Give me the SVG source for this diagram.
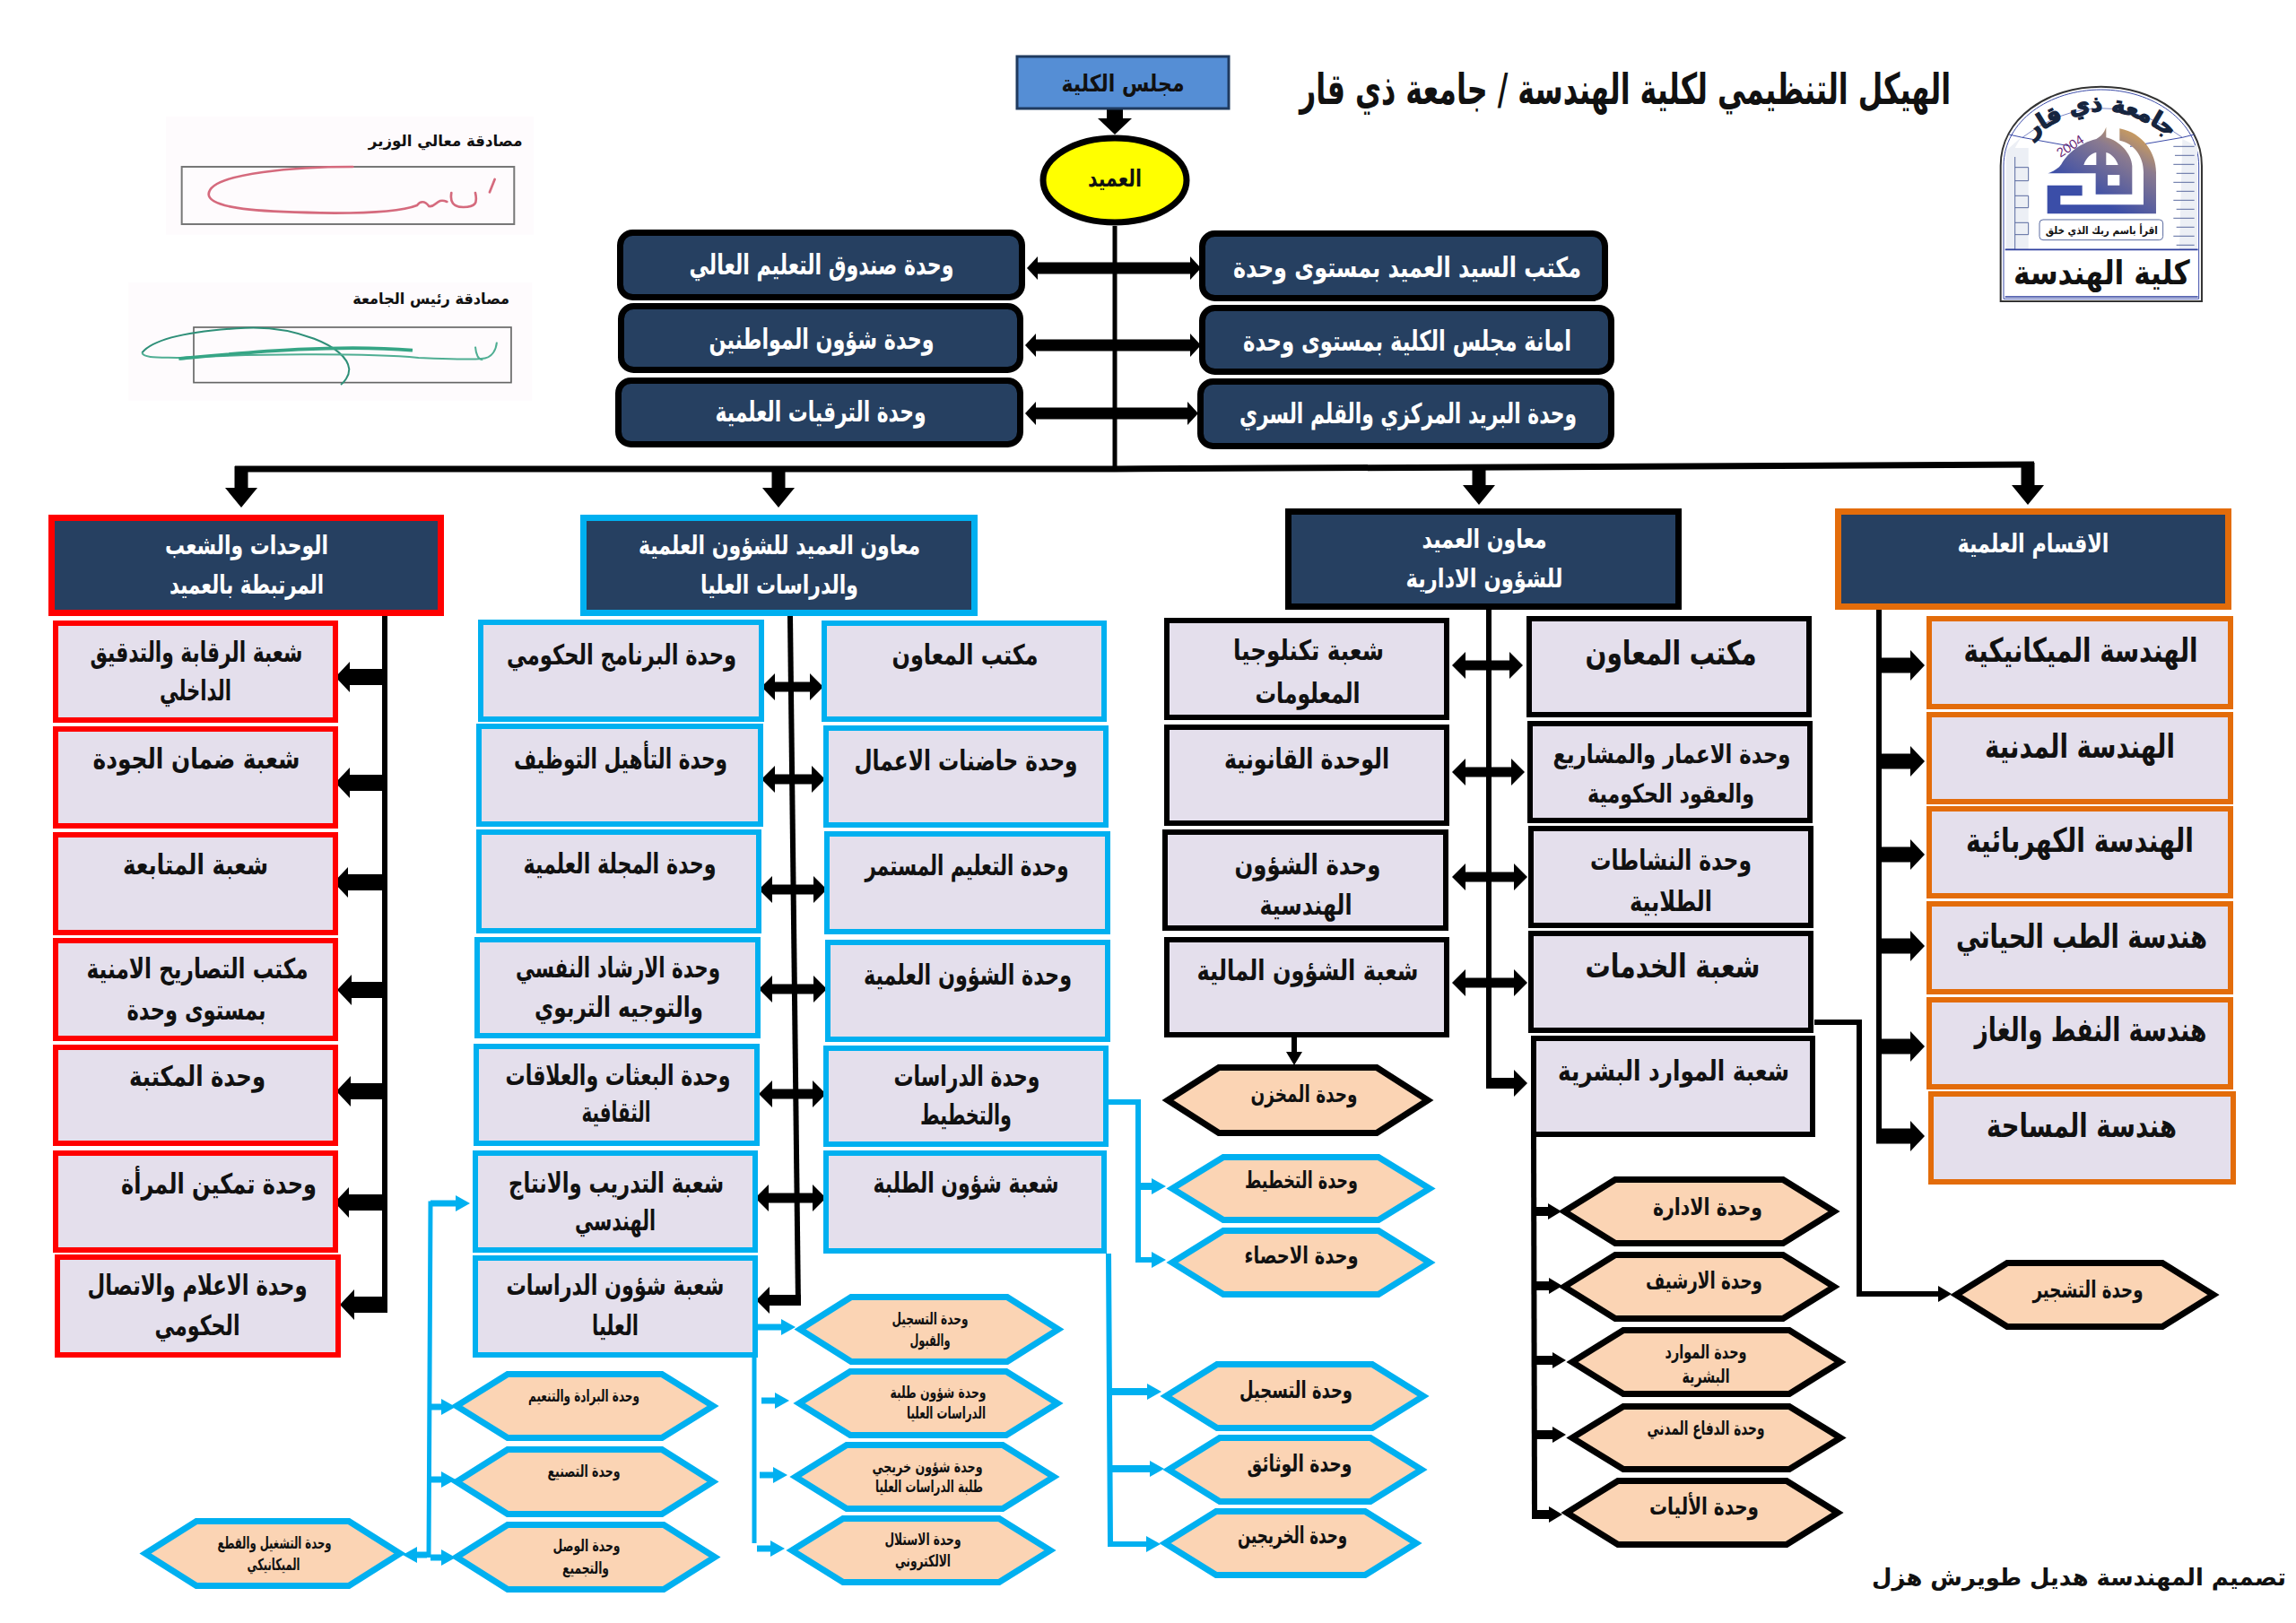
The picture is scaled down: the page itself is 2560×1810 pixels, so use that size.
<svg xmlns="http://www.w3.org/2000/svg" xmlns:xlink="http://www.w3.org/1999/xlink" width="2560" height="1810" viewBox="0 0 2560 1810">
<style>
text{font-family:"DejaVu Sans","Noto Sans",sans-serif;font-weight:700;text-anchor:middle;direction:rtl;fill:#111;}
.w{fill:#fff;}
.s16{font-size:18px}.s19{font-size:21px}.s24{font-size:26px}.s27{font-size:29px}.s29{font-size:31px}.s34{font-size:37px}.s42{font-size:48px}
.s16,.s19,.s24,.s27,.s29,.s34{transform:translateY(2px)}
.box{fill:#e4dfec;stroke-width:6;}
.hdr{fill:#264061;stroke-width:7;}
.rnd{fill:#264061;stroke:#000;stroke-width:7;}
.hex{fill:#fbd4b4;stroke-width:7;}
.red{stroke:#f00}.blue{stroke:#00b0f0}.blk{stroke:#000}.org{stroke:#e36c0a}
.ln{fill:none;stroke:#000;}
.bl{fill:none;stroke:#00b0f0;}
</style>
<defs>
<marker id="aC" markerUnits="userSpaceOnUse" viewBox="0 -19 18 38" refX="0" refY="0" markerWidth="18" markerHeight="38" orient="auto-start-reverse"><path d="M0-19L18 0L0 19Z"/></marker>
<marker id="aD" markerUnits="userSpaceOnUse" viewBox="0 -18 22 36" refX="0" refY="0" markerWidth="22" markerHeight="36" orient="auto-start-reverse"><path d="M0-18L22 0L0 18Z"/></marker>
<marker id="aT" markerUnits="userSpaceOnUse" viewBox="0 -13 12 26" refX="0" refY="0" markerWidth="12" markerHeight="26" orient="auto-start-reverse"><path d="M0-13L12 0L0 13Z"/></marker>
<marker id="aB" markerUnits="userSpaceOnUse" viewBox="0 -17 16 34" refX="0" refY="0" markerWidth="16" markerHeight="34" orient="auto-start-reverse"><path d="M0-17L16 0L0 17Z"/></marker>
<marker id="aM" markerUnits="userSpaceOnUse" viewBox="0 -15 15 30" refX="0" refY="0" markerWidth="15" markerHeight="30" orient="auto-start-reverse"><path d="M0-15L15 0L0 15Z"/></marker>
<marker id="aS" markerUnits="userSpaceOnUse" viewBox="0 -9 15 18" refX="0" refY="0" markerWidth="15" markerHeight="18" orient="auto-start-reverse"><path d="M0-9L15 0L0 9Z"/></marker>
<marker id="aL" markerUnits="userSpaceOnUse" viewBox="0 -9 16 18" refX="0" refY="0" markerWidth="16" markerHeight="18" orient="auto-start-reverse"><path d="M0-9L16 0L0 9Z" fill="#00b0f0"/></marker>
<linearGradient id="gold" x1="1" y1="0" x2="0.4" y2="0.8"><stop offset="0" stop-color="#f0b040"/><stop offset=".45" stop-color="#8a7a90"/><stop offset="1" stop-color="#3b4ea8"/></linearGradient>
<path id="arcT" d="M118 222 Q 368 12 618 222"/>
</defs>
<rect width="2560" height="1810" fill="#fff"/>

<g id="connectors">
<line class="ln" stroke-width="18" x1="1243" y1="120" x2="1243" y2="132" marker-end="url(#aC)"/>
<line class="ln" stroke-width="5" x1="1243" y1="252" x2="1243" y2="525"/>
<line class="ln" stroke-width="13" x1="1157" y1="299" x2="1327" y2="299" marker-start="url(#aT)" marker-end="url(#aT)"/>
<line class="ln" stroke-width="13" x1="1155" y1="385" x2="1327" y2="385" marker-start="url(#aT)" marker-end="url(#aT)"/>
<line class="ln" stroke-width="13" x1="1155" y1="461" x2="1324" y2="461" marker-start="url(#aT)" marker-end="url(#aT)"/>
<polyline class="ln" stroke-width="7" points="262,523 1243,523 2268,518"/>
<line class="ln" stroke-width="15" x1="269" y1="520" x2="269" y2="544" marker-end="url(#aD)"/>
<line class="ln" stroke-width="15" x1="868" y1="523" x2="868" y2="544" marker-end="url(#aD)"/>
<line class="ln" stroke-width="15" x1="1649" y1="521" x2="1649" y2="541" marker-end="url(#aD)"/>
<line class="ln" stroke-width="15" x1="2261" y1="516" x2="2261" y2="541" marker-end="url(#aD)"/>
<line class="ln" stroke-width="6" x1="429" y1="687" x2="429" y2="1463"/>
<line class="ln" stroke-width="18" x1="432" y1="755" x2="390" y2="755" marker-end="url(#aB)"/>
<line class="ln" stroke-width="18" x1="432" y1="873" x2="390" y2="873" marker-end="url(#aB)"/>
<line class="ln" stroke-width="18" x1="432" y1="984" x2="388" y2="984" marker-end="url(#aB)"/>
<line class="ln" stroke-width="18" x1="432" y1="1104" x2="392" y2="1104" marker-end="url(#aB)"/>
<line class="ln" stroke-width="18" x1="432" y1="1217" x2="391" y2="1217" marker-end="url(#aB)"/>
<line class="ln" stroke-width="18" x1="432" y1="1341" x2="389" y2="1341" marker-end="url(#aB)"/>
<line class="ln" stroke-width="18" x1="432" y1="1455" x2="395" y2="1455" marker-end="url(#aB)"/>
<polyline class="ln" stroke-width="6" points="881,687 890,1455"/>
<line class="ln" stroke-width="12" x1="893" y1="1450" x2="858" y2="1450" marker-end="url(#aM)"/>
<line class="ln" stroke-width="11" x1="864" y1="766" x2="903" y2="766" marker-start="url(#aM)" marker-end="url(#aM)"/>
<line class="ln" stroke-width="11" x1="864" y1="869" x2="905" y2="869" marker-start="url(#aM)" marker-end="url(#aM)"/>
<line class="ln" stroke-width="11" x1="861" y1="992" x2="907" y2="992" marker-start="url(#aM)" marker-end="url(#aM)"/>
<line class="ln" stroke-width="11" x1="861" y1="1103" x2="907" y2="1103" marker-start="url(#aM)" marker-end="url(#aM)"/>
<line class="ln" stroke-width="11" x1="861" y1="1220" x2="906" y2="1220" marker-start="url(#aM)" marker-end="url(#aM)"/>
<line class="ln" stroke-width="11" x1="857" y1="1336" x2="906" y2="1336" marker-start="url(#aM)" marker-end="url(#aM)"/>
<line class="ln" stroke-width="6" x1="1660" y1="680" x2="1660" y2="1208"/>
<line class="ln" stroke-width="12" x1="1657" y1="1208" x2="1688" y2="1208" marker-end="url(#aM)"/>
<line class="ln" stroke-width="11" x1="1634" y1="742" x2="1683" y2="742" marker-start="url(#aM)" marker-end="url(#aM)"/>
<line class="ln" stroke-width="11" x1="1634" y1="861" x2="1685" y2="861" marker-start="url(#aM)" marker-end="url(#aM)"/>
<line class="ln" stroke-width="11" x1="1634" y1="978" x2="1688" y2="978" marker-start="url(#aM)" marker-end="url(#aM)"/>
<line class="ln" stroke-width="11" x1="1634" y1="1096" x2="1688" y2="1096" marker-start="url(#aM)" marker-end="url(#aM)"/>
<line class="ln" stroke-width="6" x1="2095" y1="680" x2="2095" y2="1275"/>
<line class="ln" stroke-width="17" x1="2092" y1="742" x2="2130" y2="742" marker-end="url(#aB)"/>
<line class="ln" stroke-width="17" x1="2092" y1="849" x2="2130" y2="849" marker-end="url(#aB)"/>
<line class="ln" stroke-width="17" x1="2092" y1="953" x2="2130" y2="953" marker-end="url(#aB)"/>
<line class="ln" stroke-width="17" x1="2092" y1="1055" x2="2130" y2="1055" marker-end="url(#aB)"/>
<line class="ln" stroke-width="17" x1="2092" y1="1167" x2="2130" y2="1167" marker-end="url(#aB)"/>
<line class="ln" stroke-width="17" x1="2092" y1="1267" x2="2130" y2="1267" marker-end="url(#aB)"/>
<polyline class="ln" stroke-width="6" points="2023,1140 2073,1140 2073,1443 2161,1443" marker-end="url(#aS)"/>
<line class="ln" stroke-width="6" x1="1443" y1="1157" x2="1443" y2="1173" marker-end="url(#aS)"/>
<line class="ln" stroke-width="6" x1="1710" y1="1268" x2="1711" y2="1689"/>
<line class="ln" stroke-width="10" x1="1708" y1="1351" x2="1726" y2="1351" marker-end="url(#aS)"/>
<line class="ln" stroke-width="10" x1="1708" y1="1434" x2="1727" y2="1434" marker-end="url(#aS)"/>
<line class="ln" stroke-width="10" x1="1708" y1="1517" x2="1731" y2="1517" marker-end="url(#aS)"/>
<line class="ln" stroke-width="10" x1="1708" y1="1600" x2="1731" y2="1600" marker-end="url(#aS)"/>
<line class="ln" stroke-width="10" x1="1708" y1="1689" x2="1727" y2="1689" marker-end="url(#aS)"/>
<polyline class="bl" stroke-width="6" points="1236,1229 1269,1229 1269,1405 1284,1405" marker-end="url(#aL)"/>
<line class="bl" stroke-width="8" x1="1269" y1="1323" x2="1284" y2="1323" marker-end="url(#aL)"/>
<polyline class="bl" stroke-width="6" points="1236,1398 1238,1722 1278,1722" marker-end="url(#aL)"/>
<line class="bl" stroke-width="8" x1="1238" y1="1552" x2="1279" y2="1552" marker-end="url(#aL)"/>
<line class="bl" stroke-width="8" x1="1238" y1="1638" x2="1282" y2="1638" marker-end="url(#aL)"/>
<line class="bl" stroke-width="5" x1="841" y1="1512" x2="841" y2="1721"/>
<line class="bl" stroke-width="7" x1="845" y1="1480" x2="871" y2="1480" marker-end="url(#aL)"/>
<line class="bl" stroke-width="7" x1="849" y1="1562" x2="864" y2="1562" marker-end="url(#aL)"/>
<line class="bl" stroke-width="7" x1="847" y1="1645" x2="862" y2="1645" marker-end="url(#aL)"/>
<line class="bl" stroke-width="7" x1="844" y1="1727" x2="859" y2="1727" marker-end="url(#aL)"/>
<polyline class="bl" stroke-width="5" points="506,1342 480,1342 478,1737"/>
<line class="bl" stroke-width="7" x1="480" y1="1342" x2="508" y2="1342" marker-end="url(#aL)"/>
<line class="bl" stroke-width="7" x1="480" y1="1569" x2="492" y2="1569" marker-end="url(#aL)"/>
<line class="bl" stroke-width="7" x1="480" y1="1650" x2="492" y2="1650" marker-end="url(#aL)"/>
<line class="bl" stroke-width="7" x1="480" y1="1737" x2="492" y2="1737" marker-end="url(#aL)"/>
<line class="bl" stroke-width="7" x1="476" y1="1734" x2="465" y2="1734" marker-end="url(#aL)"/>
</g>

<text id="title" class="s42" x="1812" y="116" textLength="726" lengthAdjust="spacingAndGlyphs">الهيكل التنظيمي لكلية الهندسة / جامعة ذي قار</text>

<g id="sig1" transform="translate(140 125) scale(.3333)">
<rect x="135" y="15" width="1230" height="395" fill="#fefbfd"/>
<rect x="188" y="183" width="1112" height="192" fill="none" stroke="#777" stroke-width="6"/>
<path d="M760 183C600 183 280 200 278 275C280 330 500 335 700 338C820 338 930 330 975 312C985 298 1000 295 1015 315C1040 320 1040 285 1075 300M1090 270C1085 300 1095 318 1130 318C1170 318 1178 305 1170 270M1235 225L1218 268" fill="none" stroke="#d56a7d" stroke-width="8" stroke-linecap="round"/>
<text x="1070" y="113" font-size="52" textLength="515" lengthAdjust="spacingAndGlyphs">مصادقة معالي الوزير</text>
</g>
<g id="sig2" transform="translate(140 125) scale(.3333)">
<rect x="10" y="570" width="1350" height="395" fill="#fefbfd"/>
<rect x="228" y="720" width="1062" height="185" fill="none" stroke="#666" stroke-width="5"/>
<path d="M55 805C100 750 250 730 400 722C560 715 740 780 748 860C748 885 730 905 720 912" fill="none" stroke="#2e8f78" stroke-width="6"/>
<path d="M55 805C60 825 120 820 180 822C400 810 800 805 980 822C1050 825 1150 830 1190 825C1230 825 1240 790 1242 770M1170 785C1172 810 1180 830 1195 828" fill="none" stroke="#4fae93" stroke-width="6"/>
<path d="M178 825C400 805 700 775 960 797" fill="none" stroke="#36a585" stroke-width="11"/>
<text x="1022" y="642" font-size="52" textLength="525" lengthAdjust="spacingAndGlyphs">مصادقة رئيس الجامعة</text>
</g>

<g id="logo" transform="translate(2220 85) scale(.3333)">
<path d="M32 753V300C32 140 190 35 368 35C545 35 705 140 705 300V753Z" fill="#fff" stroke="#333" stroke-width="6"/>
<path d="M42 745V300C42 150 195 45 368 45C540 45 695 150 695 300V745Z" fill="none" stroke="#3a4aa8" stroke-width="3"/>
<path d="M50 580V250L100 205L80 240H125V580Z" fill="#eceff5"/>
<path d="M80 270V580H50M80 305H125V350H80M80 400H125V440H80M80 490H125V530H80" fill="none" stroke="#5a6aa0" stroke-width="3"/>
<path d="M640 210L690 235V580H630Z" fill="#eceff5"/>
<path d="M610 235H680M615 265H680M610 295H680M620 325H680M610 355H680M620 385H680M610 415H680M620 445H680M610 475H680M620 505H680M610 535H680M620 565H680" stroke="#5a6aa0" stroke-width="3"/>
<path d="M60 195L105 205L270 235M465 235L640 205L680 195" fill="none" stroke="#3a4aa8" stroke-width="3"/>
<path d="M105 205Q368 10 640 205" fill="none" stroke="#3a4aa8" stroke-width="2"/>
<path d="M47 580H692" stroke="#2e3f9e" stroke-width="5"/>
<path d="M47 738H692" stroke="#2e3f9e" stroke-width="5"/>
<text style="font-size:76px;fill:#16253f;stroke:#16253f;stroke-width:4px"><textPath href="#arcT" startOffset="50%">جامعة ذي قار</textPath></text>
<path fill-rule="evenodd" fill="url(#gold)" d="M430 175C510 190 552 260 552 320V460H188V365H305V400H232V430H510V320C510 270 480 225 430 215ZM385 170C378 190 368 200 352 210C292 225 250 265 235 295C225 310 205 320 190 325H350V395H472V300C470 260 430 215 385 205ZM310 297C318 272 335 258 352 255V297ZM385 255C405 260 420 280 425 297H385ZM390 330H430V365H390Z"/>
<text x="262" y="250" font-size="44" style="font-weight:400;fill:#6a2a78;font-family:'Liberation Sans',sans-serif;direction:ltr" transform="rotate(-33 262 230)">2004</text>
<rect x="162" y="480" width="413" height="68" rx="12" fill="#fff" stroke="#5a6aa0" stroke-width="3"/>
<text x="370" y="528" font-size="36" textLength="375" lengthAdjust="spacingAndGlyphs">اقرأ باسم ربك الذي خلق</text>
<text x="370" y="695" font-size="112" textLength="590" lengthAdjust="spacingAndGlyphs">كلية الهندسة</text>
</g>

<g id="council"><rect x="1134" y="63" width="236" height="58" fill="#558ed5" stroke="#1f3a5f" stroke-width="3"/><text class="s24" x="1252" y="100" textLength="137" lengthAdjust="spacingAndGlyphs">مجلس الكلية</text></g>
<g id="dean"><ellipse cx="1243" cy="201" rx="80" ry="47" fill="#ff0" stroke="#000" stroke-width="7"/><text class="s24" x="1243" y="206" textLength="60" lengthAdjust="spacingAndGlyphs">العميد</text></g>

<g id="top-l1"><rect class="rnd" x="691.5" y="259.5" width="448" height="72" rx="14"/><text class="w s29" x="916" y="304" textLength="295" lengthAdjust="spacingAndGlyphs">وحدة صندوق التعليم العالي</text></g>
<g id="top-l2"><rect class="rnd" x="692.5" y="341.5" width="445" height="71" rx="14"/><text class="w s29" x="916" y="387" textLength="251" lengthAdjust="spacingAndGlyphs">وحدة شؤون المواطنين</text></g>
<g id="top-l3"><rect class="rnd" x="689.5" y="424.5" width="448" height="71" rx="14"/><text class="w s29" x="915" y="468" textLength="235" lengthAdjust="spacingAndGlyphs">وحدة الترقيات العلمية</text></g>
<g id="top-r1"><rect class="rnd" x="1340.5" y="260.5" width="449" height="72" rx="14"/><text class="w s29" x="1569" y="307" textLength="388" lengthAdjust="spacingAndGlyphs">مكتب السيد العميد بمستوى وحدة</text></g>
<g id="top-r2"><rect class="rnd" x="1340.5" y="343.5" width="456" height="71" rx="14"/><text class="w s29" x="1569" y="389" textLength="366" lengthAdjust="spacingAndGlyphs">امانة مجلس الكلية بمستوى وحدة</text></g>
<g id="top-r3"><rect class="rnd" x="1338.5" y="425.5" width="458" height="72" rx="14"/><text class="w s29" x="1570" y="470" textLength="376" lengthAdjust="spacingAndGlyphs">وحدة البريد المركزي والقلم السري</text></g>

<g id="h-red"><rect class="hdr red" x="57.5" y="577.5" width="434" height="106"/><text class="w s27" x="275" y="616" textLength="182" lengthAdjust="spacingAndGlyphs">الوحدات والشعب</text><text class="w s27" x="275" y="660" textLength="172" lengthAdjust="spacingAndGlyphs">المرتبطة بالعميد</text></g>
<g id="h-blue"><rect class="hdr blue" x="650.5" y="577.5" width="436" height="106"/><text class="w s27" x="869" y="616" textLength="314" lengthAdjust="spacingAndGlyphs">معاون العميد للشؤون العلمية</text><text class="w s27" x="869" y="660" textLength="176" lengthAdjust="spacingAndGlyphs">والدراسات العليا</text></g>
<g id="h-black"><rect class="hdr blk" x="1436.5" y="570.5" width="435" height="106"/><text class="w s27" x="1655" y="609" textLength="139" lengthAdjust="spacingAndGlyphs">معاون العميد</text><text class="w s27" x="1655" y="653" textLength="175" lengthAdjust="spacingAndGlyphs">للشؤون الادارية</text></g>
<g id="h-orange"><rect class="hdr org" x="2049.5" y="570.5" width="435" height="106"/><text class="w s27" x="2267" y="614" textLength="169" lengthAdjust="spacingAndGlyphs">الاقسام العلمية</text></g>

<g id="r1"><rect class="box red" x="62" y="695" width="312" height="108"/><text class="s29" x="219" y="736" textLength="237" lengthAdjust="spacingAndGlyphs">شعبة الرقابة والتدقيق</text><text class="s29" x="218" y="779" textLength="80" lengthAdjust="spacingAndGlyphs">الداخلي</text></g>
<g id="r2"><rect class="box red" x="62" y="813" width="312" height="108"/><text class="s29" x="219" y="855" textLength="231" lengthAdjust="spacingAndGlyphs">شعبة ضمان الجودة</text></g>
<g id="r3"><rect class="box red" x="62" y="931" width="312" height="109"/><text class="s29" x="218" y="973" textLength="162" lengthAdjust="spacingAndGlyphs">شعبة المتابعة</text></g>
<g id="r4"><rect class="box red" x="62" y="1049" width="312" height="109"/><text class="s29" x="220" y="1089" textLength="247" lengthAdjust="spacingAndGlyphs">مكتب التصاريح الامنية</text><text class="s29" x="219" y="1135" textLength="155" lengthAdjust="spacingAndGlyphs">بمستوى وحدة</text></g>
<g id="r5"><rect class="box red" x="62" y="1168" width="312" height="107"/><text class="s29" x="220" y="1209" textLength="152" lengthAdjust="spacingAndGlyphs">وحدة المكتبة</text></g>
<g id="r6"><rect class="box red" x="62" y="1286" width="312" height="108"/><text class="s29" x="244" y="1329" textLength="218" lengthAdjust="spacingAndGlyphs">وحدة تمكين المرأة</text></g>
<g id="r7"><rect class="box red" x="64" y="1402" width="313" height="109"/><text class="s29" x="220" y="1442" textLength="245" lengthAdjust="spacingAndGlyphs">وحدة الاعلام والاتصال</text><text class="s29" x="220" y="1487" textLength="95" lengthAdjust="spacingAndGlyphs">الحكومي</text></g>

<g id="b1"><rect class="box blue" x="536" y="694" width="313" height="108"/><text class="s29" x="693" y="739" textLength="256" lengthAdjust="spacingAndGlyphs">وحدة البرنامج الحكومي</text></g>
<g id="b2"><rect class="box blue" x="534" y="810" width="314" height="109"/><text class="s29" x="692" y="855" textLength="238" lengthAdjust="spacingAndGlyphs">وحدة التأهيل التوظيف</text></g>
<g id="b3"><rect class="box blue" x="534" y="928" width="312" height="110"/><text class="s29" x="691" y="972" textLength="215" lengthAdjust="spacingAndGlyphs">وحدة المجلة العلمية</text></g>
<g id="b4"><rect class="box blue" x="532" y="1048" width="313" height="107"/><text class="s29" x="689" y="1088" textLength="228" lengthAdjust="spacingAndGlyphs">وحدة الارشاد النفسي</text><text class="s29" x="690" y="1132" textLength="188" lengthAdjust="spacingAndGlyphs">والتوجيه التربوي</text></g>
<g id="b5"><rect class="box blue" x="531" y="1167" width="313" height="108"/><text class="s29" x="689" y="1208" textLength="251" lengthAdjust="spacingAndGlyphs">وحدة البعثات والعلاقات</text><text class="s29" x="687" y="1249" textLength="77" lengthAdjust="spacingAndGlyphs">الثقافية</text></g>
<g id="b6"><rect class="box blue" x="530" y="1286" width="312" height="108"/><text class="s29" x="687" y="1328" textLength="240" lengthAdjust="spacingAndGlyphs">شعبة التدريب والانتاج</text><text class="s29" x="686" y="1370" textLength="90" lengthAdjust="spacingAndGlyphs">الهندسي</text></g>
<g id="b7"><rect class="box blue" x="530" y="1403" width="312" height="108"/><text class="s29" x="686" y="1442" textLength="243" lengthAdjust="spacingAndGlyphs">شعبة شؤون الدراسات</text><text class="s29" x="686" y="1487" textLength="52" lengthAdjust="spacingAndGlyphs">العليا</text></g>

<g id="c1"><rect class="box blue" x="919" y="695" width="312" height="107"/><text class="s29" x="1076" y="739" textLength="163" lengthAdjust="spacingAndGlyphs">مكتب المعاون</text></g>
<g id="c2"><rect class="box blue" x="921" y="812" width="312" height="108"/><text class="s29" x="1077" y="857" textLength="249" lengthAdjust="spacingAndGlyphs">وحدة حاضنات الاعمال</text></g>
<g id="c3"><rect class="box blue" x="922" y="930" width="313" height="109"/><text class="s29" x="1078" y="974" textLength="227" lengthAdjust="spacingAndGlyphs">وحدة التعليم المستمر</text></g>
<g id="c4"><rect class="box blue" x="923" y="1051" width="312" height="108"/><text class="s29" x="1079" y="1096" textLength="232" lengthAdjust="spacingAndGlyphs">وحدة الشؤون العلمية</text></g>
<g id="c5"><rect class="box blue" x="921" y="1169" width="312" height="107"/><text class="s29" x="1078" y="1209" textLength="163" lengthAdjust="spacingAndGlyphs">وحدة الدراسات</text><text class="s29" x="1077" y="1252" textLength="102" lengthAdjust="spacingAndGlyphs">والتخطيط</text></g>
<g id="c6"><rect class="box blue" x="921" y="1286" width="310" height="109"/><text class="s29" x="1077" y="1328" textLength="207" lengthAdjust="spacingAndGlyphs">شعبة شؤون الطلبة</text></g>

<g id="k1"><rect class="box blk" x="1301" y="692" width="312" height="108"/><text class="s29" x="1459" y="734" textLength="168" lengthAdjust="spacingAndGlyphs">شعبة تكنلوجيا</text><text class="s29" x="1458" y="782" textLength="117" lengthAdjust="spacingAndGlyphs">المعلومات</text></g>
<g id="k2"><rect class="box blk" x="1301" y="811" width="312" height="107"/><text class="s29" x="1457" y="855" textLength="184" lengthAdjust="spacingAndGlyphs">الوحدة القانونية</text></g>
<g id="k3"><rect class="box blk" x="1299" y="928" width="313" height="107"/><text class="s29" x="1458" y="973" textLength="163" lengthAdjust="spacingAndGlyphs">وحدة الشؤون</text><text class="s29" x="1456" y="1018" textLength="103" lengthAdjust="spacingAndGlyphs">الهندسية</text></g>
<g id="k4"><rect class="box blk" x="1301" y="1048" width="312" height="106"/><text class="s29" x="1458" y="1091" textLength="247" lengthAdjust="spacingAndGlyphs">شعبة الشؤون المالية</text></g>

<g id="m1"><rect class="box blk" x="1705" y="690" width="312" height="107"/><text class="s34" x="1863" y="739" textLength="191" lengthAdjust="spacingAndGlyphs">مكتب المعاون</text></g>
<g id="m2"><rect class="box blk" x="1706" y="807" width="312" height="108"/><text class="s27" x="1864" y="849" textLength="265" lengthAdjust="spacingAndGlyphs">وحدة الاعمار والمشاريع</text><text class="s27" x="1863" y="893" textLength="186" lengthAdjust="spacingAndGlyphs">والعقود الحكومية</text></g>
<g id="m3"><rect class="box blk" x="1707" y="924" width="312" height="108"/><text class="s29" x="1863" y="968" textLength="180" lengthAdjust="spacingAndGlyphs">وحدة النشاطات</text><text class="s29" x="1863" y="1014" textLength="92" lengthAdjust="spacingAndGlyphs">الطلابية</text></g>
<g id="m4"><rect class="box blk" x="1707" y="1041" width="312" height="108"/><text class="s34" x="1865" y="1088" textLength="195" lengthAdjust="spacingAndGlyphs">شعبة الخدمات</text></g>
<g id="m5"><rect class="box blk" x="1710" y="1158" width="311" height="107"/><text class="s29" x="1866" y="1203" textLength="258" lengthAdjust="spacingAndGlyphs">شعبة الموارد البشرية</text></g>

<g id="o1"><rect class="box org" x="2151" y="690" width="336" height="98"/><text class="s34" x="2320" y="736" textLength="261" lengthAdjust="spacingAndGlyphs">الهندسة الميكانيكية</text></g>
<g id="o2"><rect class="box org" x="2151" y="797" width="336" height="97"/><text class="s34" x="2319" y="843" textLength="212" lengthAdjust="spacingAndGlyphs">الهندسة المدنية</text></g>
<g id="o3"><rect class="box org" x="2151" y="902" width="336" height="97"/><text class="s34" x="2319" y="948" textLength="254" lengthAdjust="spacingAndGlyphs">الهندسة الكهربائية</text></g>
<g id="o4"><rect class="box org" x="2151" y="1008" width="336" height="98"/><text class="s34" x="2321" y="1055" textLength="280" lengthAdjust="spacingAndGlyphs">هندسة الطب الحياتي</text></g>
<g id="o5"><rect class="box org" x="2151" y="1115" width="336" height="97"/><text class="s34" x="2331" y="1159" textLength="259" lengthAdjust="spacingAndGlyphs">هندسة النفط والغاز</text></g>
<g id="o6"><rect class="box org" x="2153" y="1220" width="337" height="98"/><text class="s34" x="2321" y="1266" textLength="212" lengthAdjust="spacingAndGlyphs">هندسة المساحة</text></g>

<g id="hx-makhzan"><polygon class="hex blk" points="1302,1227 1359,1190.5 1535,1190.5 1592,1227 1535,1263.5 1359,1263.5"/><text class="s24" x="1454" y="1227" textLength="119" lengthAdjust="spacingAndGlyphs">وحدة المخزن</text></g>
<g id="hx-takhtit"><polygon class="hex blue" points="1307,1325.5 1364,1290.5 1537,1290.5 1594,1325.5 1537,1360.5 1364,1360.5"/><text class="s24" x="1451" y="1323" textLength="126" lengthAdjust="spacingAndGlyphs">وحدة التخطيط</text></g>
<g id="hx-ihsa"><polygon class="hex blue" points="1307,1408 1364,1372.5 1537,1372.5 1594,1408 1537,1443.5 1364,1443.5"/><text class="s24" x="1451" y="1407" textLength="127" lengthAdjust="spacingAndGlyphs">وحدة الاحصاء</text></g>
<g id="hx-tasjil"><polygon class="hex blue" points="1300,1557 1357,1521.5 1530,1521.5 1587,1557 1530,1592.5 1357,1592.5"/><text class="s24" x="1445" y="1557" textLength="126" lengthAdjust="spacingAndGlyphs">وحدة التسجيل</text></g>
<g id="hx-wathaiq"><polygon class="hex blue" points="1303,1639 1360,1603.5 1528,1603.5 1585,1639 1528,1674.5 1360,1674.5"/><text class="s24" x="1449" y="1639" textLength="117" lengthAdjust="spacingAndGlyphs">وحدة الوثائق</text></g>
<g id="hx-kharij"><polygon class="hex blue" points="1299,1721 1356,1685.5 1522,1685.5 1579,1721 1522,1756.5 1356,1756.5"/><text class="s24" x="1441" y="1719" textLength="122" lengthAdjust="spacingAndGlyphs">وحدة الخريجين</text></g>
<g id="hx-idara"><polygon class="hex blk" points="1744,1351 1801,1315.5 1988,1315.5 2045,1351 1988,1386.5 1801,1386.5"/><text class="s24" x="1904" y="1353" textLength="122" lengthAdjust="spacingAndGlyphs">وحدة الادارة</text></g>
<g id="hx-arshif"><polygon class="hex blk" points="1744,1435 1801,1399.5 1988,1399.5 2045,1435 1988,1470.5 1801,1470.5"/><text class="s24" x="1900" y="1435" textLength="130" lengthAdjust="spacingAndGlyphs">وحدة الارشيف</text></g>
<g id="hx-mawarid"><polygon class="hex blk" points="1753,1519 1810,1483.5 1995,1483.5 2052,1519 1995,1554.5 1810,1554.5"/><text class="s19" x="1902" y="1513" textLength="91" lengthAdjust="spacingAndGlyphs">وحدة الموارد</text><text class="s19" x="1902" y="1540" textLength="53" lengthAdjust="spacingAndGlyphs">البشرية</text></g>
<g id="hx-difa"><polygon class="hex blk" points="1753,1603.5 1810,1568.5 1995,1568.5 2052,1603.5 1995,1638.5 1810,1638.5"/><text class="s19" x="1902" y="1598" textLength="131" lengthAdjust="spacingAndGlyphs">وحدة الدفاع المدني</text></g>
<g id="hx-aliyat"><polygon class="hex blk" points="1747,1687 1804,1651.5 1992,1651.5 2049,1687 1992,1722.5 1804,1722.5"/><text class="s24" x="1900" y="1687" textLength="122" lengthAdjust="spacingAndGlyphs">وحدة الأليات</text></g>
<g id="hx-tashjir"><polygon class="hex blk" points="2181,1444 2238,1408.5 2411,1408.5 2468,1444 2411,1479.5 2238,1479.5"/><text class="s24" x="2328" y="1445" textLength="123" lengthAdjust="spacingAndGlyphs">وحدة التشجير</text></g>

<g id="hx-a1"><polygon class="hex blue" points="892,1482.5 949,1446.5 1123,1446.5 1180,1482.5 1123,1518.5 949,1518.5"/><text class="s16" x="1037" y="1475" textLength="85" lengthAdjust="spacingAndGlyphs">وحدة التسجيل</text><text class="s16" x="1037" y="1499" textLength="45" lengthAdjust="spacingAndGlyphs">والقبول</text></g>
<g id="hx-a2"><polygon class="hex blue" points="891,1565 948,1529.5 1122,1529.5 1179,1565 1122,1600.5 948,1600.5"/><text class="s16" x="1046" y="1557" textLength="107" lengthAdjust="spacingAndGlyphs">وحدة شؤون طلبة</text><text class="s16" x="1055" y="1580" textLength="88" lengthAdjust="spacingAndGlyphs">الدراسات العليا</text></g>
<g id="hx-a3"><polygon class="hex blue" points="887,1647 944,1611.5 1118,1611.5 1175,1647 1118,1682.5 944,1682.5"/><text class="s16" x="1034" y="1640" textLength="123" lengthAdjust="spacingAndGlyphs">وحدة شؤون خريجي</text><text class="s16" x="1036" y="1662" textLength="120" lengthAdjust="spacingAndGlyphs">طلبة الدراسات العليا</text></g>
<g id="hx-a4"><polygon class="hex blue" points="883,1729 940,1693.5 1114,1693.5 1171,1729 1114,1764.5 940,1764.5"/><text class="s16" x="1029" y="1721" textLength="85" lengthAdjust="spacingAndGlyphs">وحدة الاستلال</text><text class="s16" x="1029" y="1745" textLength="62" lengthAdjust="spacingAndGlyphs">الالكتروني</text></g>
<g id="hx-d1"><polygon class="hex blue" points="509,1568 566,1532.5 738,1532.5 795,1568 738,1603.5 566,1603.5"/><text class="s16" x="651" y="1561" textLength="124" lengthAdjust="spacingAndGlyphs">وحدة البرادة والتنعيم</text></g>
<g id="hx-d2"><polygon class="hex blue" points="509,1652.5 566,1616.5 738,1616.5 795,1652.5 738,1688.5 566,1688.5"/><text class="s16" x="651" y="1645" textLength="81" lengthAdjust="spacingAndGlyphs">وحدة التصنيع</text></g>
<g id="hx-d3"><polygon class="hex blue" points="509,1736.5 566,1700.5 740,1700.5 797,1736.5 740,1772.5 566,1772.5"/><text class="s16" x="654" y="1728" textLength="75" lengthAdjust="spacingAndGlyphs">وحدة الوصل</text><text class="s16" x="653" y="1753" textLength="52" lengthAdjust="spacingAndGlyphs">والتجميع</text></g>
<g id="hx-e"><polygon class="hex blue" points="162,1732.5 219,1696.5 389,1696.5 446,1732.5 389,1768.5 219,1768.5"/><text class="s16" x="306" y="1725" textLength="127" lengthAdjust="spacingAndGlyphs">وحدة التشغيل والقطع</text><text class="s16" x="305" y="1749" textLength="59" lengthAdjust="spacingAndGlyphs">الميكانيكي</text></g>

<text id="footer" x="2318" y="1768" font-size="26" textLength="462" lengthAdjust="spacingAndGlyphs">تصميم المهندسة هديل طويرش هزل</text>
</svg>
